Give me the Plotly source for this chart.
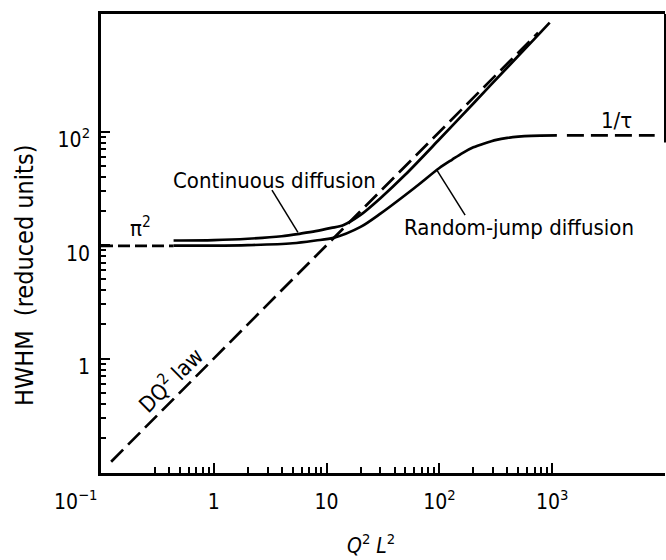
import numpy as np
import plotly.graph_objects as go

# Half width at half maximum (reduced units) versus Q^2 L^2
cont_x = [0.44, 1, 2, 4, 6, 8, 11, 14, 20, 30, 50, 100, 200, 400, 700, 950]
cont_y = [11.0, 11.1, 11.4, 12.0, 12.7, 13.3, 14.2, 15.0, 18.5, 26, 42, 86, 178, 370, 665, 920]

jump_x = [0.44, 1, 2, 5, 8, 11.5, 20, 30, 60, 100, 130, 160, 200, 250, 320, 400, 500, 650, 1100]
jump_y = [9.9, 9.9, 10.0, 10.4, 11.0, 11.6, 14.5, 19, 32, 48, 57, 65, 73, 79, 85, 88.5, 90.8, 92.3, 93]

# Limiting laws
dq2_x = [0.123, 750]
dq2_y = [0.123, 750]
pi2_x = [0.1, 0.44]
pi2_y = [9.87, 9.87]
tau_x = [1350, 8100]
tau_y = [93, 93]

# Leader lines from the labels to the curves
lead_cont_x = [3.28, 5.57]
lead_cont_y = [30.6, 13.0]
lead_jump_x = [95, 169]
lead_jump_y = [46, 18.4]

x_major = [0.1, 1, 10, 100, 1000]
x_major_text = ["", "1", "10", "10<sup>2</sup>", "10<sup>3</sup>"]
y_major = [1, 10, 100]
y_major_text = ["1", "10", "10<sup>2</sup>"]
x_minor = [0.3, 0.4, 0.5, 0.6, 0.7, 0.8, 0.9] + \
    [m * d for d in (1, 10, 100) for m in range(2, 10)]
y_minor = [m * d for d in (0.1, 1, 10) for m in range(2, 10)]

FONT = "DejaVu Sans Condensed, Liberation Sans, Arial, sans-serif"
INK = "black"

fig = go.Figure()

def add_line(x, y, dash="solid", width=2.7):
    fig.add_trace(go.Scatter(
        x=x, y=y, mode="lines",
        line=dict(color=INK, width=width, dash=dash, shape="spline", smoothing=0.8),
        hoverinfo="skip", showlegend=False, cliponaxis=False,
    ))

add_line(cont_x, cont_y)
add_line(jump_x, jump_y)
add_line(dq2_x, dq2_y, dash="17px,7px")
add_line(pi2_x, pi2_y, dash="12px,5px")
add_line(tau_x, tau_y, dash="17px,7px")
add_line(lead_cont_x, lead_cont_y, width=1.5)
add_line(lead_jump_x, lead_jump_y, width=1.5)

def lg(v):
    return float(np.log10(v))

annotations = [
    dict(x=lg(3.42), y=lg(37.5), text="Continuous diffusion"),
    dict(x=lg(508), y=lg(14.4), text="Random-jump diffusion"),
    dict(x=lg(0.222), y=lg(14.6), text="\u03c0<sup>2</sup>"),
    dict(x=lg(3750), y=lg(127), text="1/\u03c4"),
    dict(x=lg(0.427), y=lg(0.62), text="DQ<sup>2</sup> law", textangle=-45,
         xshift=-2, yshift=3),
]
for a in annotations:
    a.update(xref="x", yref="y", showarrow=False,
             font=dict(family=FONT, size=22, color=INK),
             xanchor="center", yanchor="middle")

annotations.append(dict(
    x=-0.044, y=-0.059, xref="paper", yref="paper", showarrow=False,
    text="10<sup>\u22121</sup>", font=dict(family=FONT, size=21, color=INK),
    xanchor="center", yanchor="middle"))
annotations.append(dict(
    x=0.479, y=-0.155, xref="paper", yref="paper", showarrow=False,
    text="<i>Q</i><sup>2</sup> <i>L</i><sup>2</sup>",
    font=dict(family=FONT, size=21, color=INK),
    xanchor="center", yanchor="middle"))
annotations.append(dict(
    x=-0.137, y=0.431, xref="paper", yref="paper", showarrow=False,
    text="HWHM\u00a0\u00a0(reduced units)", textangle=-90,
    font=dict(family=FONT, size=25, color=INK),
    xanchor="center", yanchor="middle"))

fig.update_layout(
    width=666, height=560,
    margin=dict(l=101, r=1, t=14, b=87),
    paper_bgcolor="white", plot_bgcolor="white",
    font=dict(family=FONT, color=INK),
    annotations=annotations,
    shapes=[dict(type="line", xref="paper", yref="paper",
                 x0=1, x1=1, y0=0.72, y1=1,
                 line=dict(color=INK, width=2))],
)

fig.update_xaxes(
    type="log", range=[-1, 4],
    showgrid=False, zeroline=False,
    showline=True, linecolor=INK, linewidth=2.5, mirror=True,
    ticks="inside", ticklen=10, tickwidth=2, tickcolor=INK,
    tickmode="array", tickvals=x_major, ticktext=x_major_text,
    tickfont=dict(family=FONT, size=21, color=INK),
    ticklabelstandoff=8,
    minor=dict(ticks="inside", ticklen=6, tickwidth=2, tickcolor=INK,
               tickmode="array", tickvals=x_minor, showgrid=False),
)
fig.update_yaxes(
    type="log", range=[-1.01, 3.04],
    showgrid=False, zeroline=False,
    showline=True, linecolor=INK, linewidth=2.5,
    ticks="inside", ticklen=9, tickwidth=2, tickcolor=INK,
    tickmode="array", tickvals=y_major, ticktext=y_major_text,
    tickfont=dict(family=FONT, size=21, color=INK),
    ticklabelstandoff=4, ticklabelshift=8,
    minor=dict(ticks="inside", ticklen=5, tickwidth=2, tickcolor=INK,
               tickmode="array", tickvals=y_minor, showgrid=False),
)

fig.write_html("out.html")
